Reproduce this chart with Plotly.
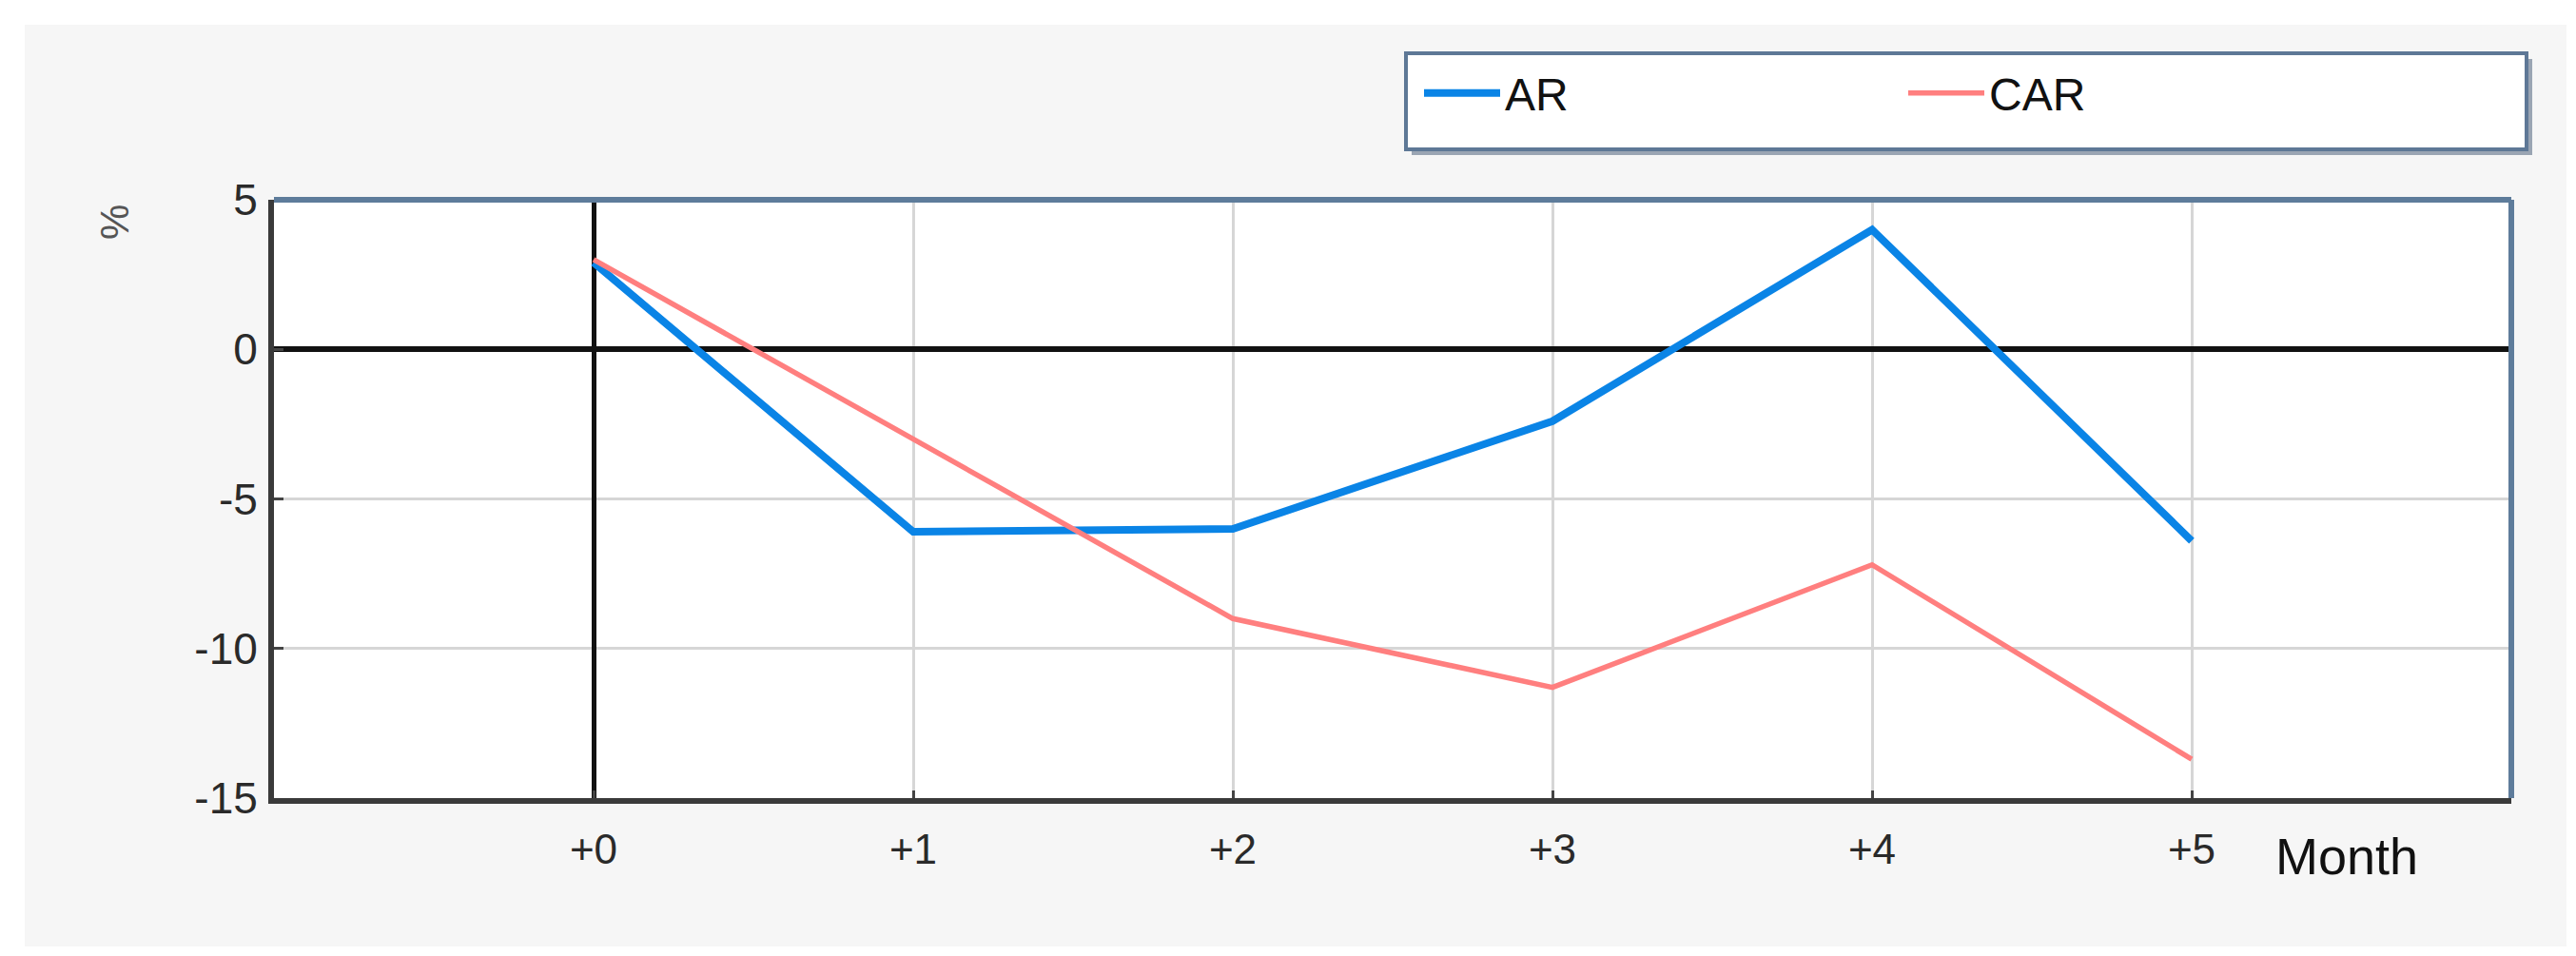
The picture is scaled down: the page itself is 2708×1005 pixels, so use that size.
import plotly.graph_objects as go

# months after the event and their axis labels
months = [0, 1, 2, 3, 4, 5]
month_labels = ["+0", "+1", "+2", "+3", "+4", "+5"]

# abnormal return and cumulative abnormal return, in %
ar = [2.9, -6.1, -6.0, -2.4, 4.0, -6.4]
car = [3.0, -3.0, -9.0, -11.3, -7.2, -13.7]

y_ticks = [5, 0, -5, -10, -15]
y_tick_labels = ["5", "0", "-5", "-10", "-15"]

FONT = "Segoe UI, Liberation Sans, Arial, sans-serif"

# plot area in pixels (left, right, top, bottom)
L, R, T, B = 280, 2632, 202, 831
W, H = R - L, B - T


def px(x):
    return (x - L) / W


def py(y):
    return (B - y) / H


fig = go.Figure()
fig.add_trace(go.Scatter(x=months, y=ar, name="AR", mode="lines",
                         line=dict(color="#0a84e6", width=8)))
fig.add_trace(go.Scatter(x=months, y=car, name="CAR", mode="lines",
                         line=dict(color="#ff7f7f", width=5.5)))

fig.update_layout(
    width=2708, height=1005, autosize=False,
    margin=dict(l=L, r=2708 - R, t=T, b=1005 - B),
    paper_bgcolor="#f6f6f6",
    plot_bgcolor="white",
    font=dict(family=FONT, color="#333333"),
    showlegend=True,
    legend=dict(
        orientation="h", x=px(1484), y=py(90), xanchor="left", yanchor="middle",
        bgcolor="rgba(0,0,0,0)", borderwidth=0,
        font=dict(size=48, color="#111111", family=FONT),
        entrywidth=414, entrywidthmode="pixels", itemwidth=80,
    ),
    xaxis=dict(
        range=[-1, 6], tickvals=months, ticktext=month_labels,
        showgrid=True, gridcolor="#d6d6d6", gridwidth=3,
        zeroline=True, zerolinecolor="#111111", zerolinewidth=5,
        showline=True, linecolor="#3a3a3a", linewidth=6, mirror=False,
        ticks="inside", ticklen=8, tickwidth=3, tickcolor="#444444",
        tickfont=dict(size=44, color="#2a2a2a"), ticklabelstandoff=10,
        fixedrange=True,
    ),
    yaxis=dict(
        range=[-15, 5], tickvals=y_ticks, ticktext=y_tick_labels,
        showgrid=True, gridcolor="#d6d6d6", gridwidth=3,
        zeroline=True, zerolinecolor="#111111", zerolinewidth=6,
        showline=True, linecolor="#3a3a3a", linewidth=6, mirror=False,
        ticks="inside", ticklen=10, tickwidth=3, tickcolor="#444444",
        tickfont=dict(size=46, color="#2a2a2a"), ticklabelstandoff=2,
        fixedrange=True,
    ),
    shapes=[
        # bluish top and right border of the plot frame
        dict(type="line", xref="paper", yref="paper", x0=0, x1=1, y0=1, y1=1,
             line=dict(color="#5e7c9b", width=6)),
        dict(type="line", xref="paper", yref="paper", x0=1, x1=1, y0=0, y1=1,
             line=dict(color="#5e7c9b", width=6)),
        # legend frame with a soft shadow
        dict(type="rect", xref="paper", yref="paper",
             x0=px(1476), x1=px(2654), y0=py(155), y1=py(54),
             line=dict(width=0), fillcolor="#9aa5b3"),
        dict(type="rect", xref="paper", yref="paper",
             x0=px(1470), x1=px(2648), y0=py(149), y1=py(48),
             line=dict(color="#5e7896", width=4), fillcolor="white"),
        # white page margin around the grey panel
        dict(type="rect", xref="paper", yref="paper",
             x0=px(0), x1=px(2708), y0=py(1005), y1=py(0),
             line=dict(color="white", width=36), fillcolor="rgba(0,0,0,0)"),
    ],
    annotations=[
        dict(text="%", xref="paper", yref="paper", x=px(113), y=py(226),
             xanchor="center", yanchor="middle",
             showarrow=False, textangle=-90, font=dict(size=42, color="#555555")),
        dict(text="Month", xref="paper", yref="paper", x=px(2459),
             y=py(892), showarrow=False, xanchor="center", yanchor="middle",
             font=dict(size=54, color="#111111")),
    ],
)

fig.write_html("out.html")
